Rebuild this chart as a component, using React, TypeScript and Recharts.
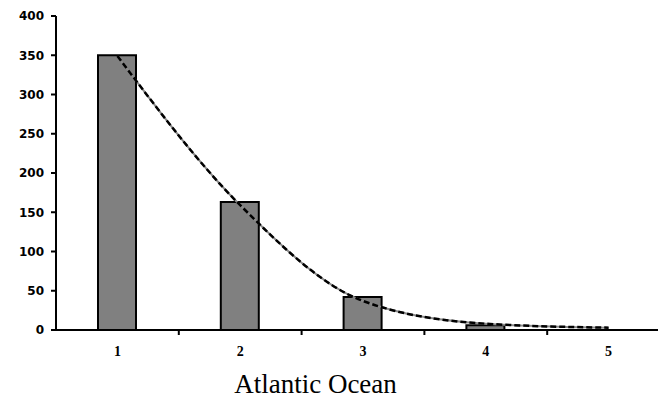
import React from 'react';
import { ComposedChart, Bar, Line, XAxis, YAxis } from 'recharts';

const categories = [1, 2, 3, 4, 5];
const counts = [350, 163, 42, 6, 0];
const trend = [349, 159, 37, 8, 3];
const yTicks = [0, 50, 100, 150, 200, 250, 300, 350, 400];
const xTicks = [1, 1.5, 2, 2.5, 3, 3.5, 4, 4.5, 5];
const title = 'Atlantic Ocean';

const data = categories.map((c, i) => ({ x: c, count: counts[i], trend: trend[i] }));

const XTick = (props: any) => {
  const { x, y, payload } = props;
  const v = payload.value;
  if (Number.isInteger(v)) {
    return (
      <text x={x} y={y + 26} textAnchor="middle" fontFamily="'Liberation Serif', serif" fontWeight="bold" fontSize={14} fill="#000">
        {v}
      </text>
    );
  }
  return <line x1={x} y1={y} x2={x} y2={y + 5} stroke="#000" strokeWidth={2} />;
};

const TitleLabel = (props: any) => {
  const vb = props.viewBox;
  return (
    <text x={vb.x + 259.5} y={vb.y + 63} textAnchor="middle" fontFamily="'Liberation Serif', serif" fontSize={27} fill="#000">
      {title}
    </text>
  );
};

export default function App() {
  return (
    <div style={{ position: 'absolute', left: 0, top: 0, width: 658, height: 401, overflow: 'hidden', background: '#fff' }}>
      <ComposedChart width={680} height={401} data={data} margin={{ top: 16, right: 10, bottom: 0, left: 6 }}>
        <XAxis
          dataKey="x"
          type="number"
          domain={[0.5, 5.5]}
          ticks={xTicks}
          interval={0}
          height={71}
          tickLine={false}
          tickSize={0}
          tickMargin={0}
          axisLine={{ stroke: '#000', strokeWidth: 2 }}
          tick={<XTick />}
          label={<TitleLabel />}
        />
        <YAxis
          type="number"
          domain={[0, 400]}
          ticks={yTicks}
          width={50}
          interval={0}
          axisLine={{ stroke: '#000', strokeWidth: 2 }}
          tickLine={{ stroke: '#000', strokeWidth: 2 }}
          tickSize={5}
          tickMargin={7}
          tick={{ fill: '#000', fontFamily: "'DejaVu Sans', sans-serif", fontWeight: 'bold', fontSize: 12 }}
        />
        <Bar dataKey="count" barSize={38} fill="#808080" stroke="#000" strokeWidth={2} isAnimationActive={false} />
        <Line dataKey="trend" type="monotone" stroke="#8a8a8a" strokeWidth={2} dot={false} isAnimationActive={false} />
        <Line dataKey="trend" type="monotone" stroke="#000" strokeWidth={2.5} strokeDasharray="6 3" dot={false} isAnimationActive={false} />
      </ComposedChart>
    </div>
  );
}
